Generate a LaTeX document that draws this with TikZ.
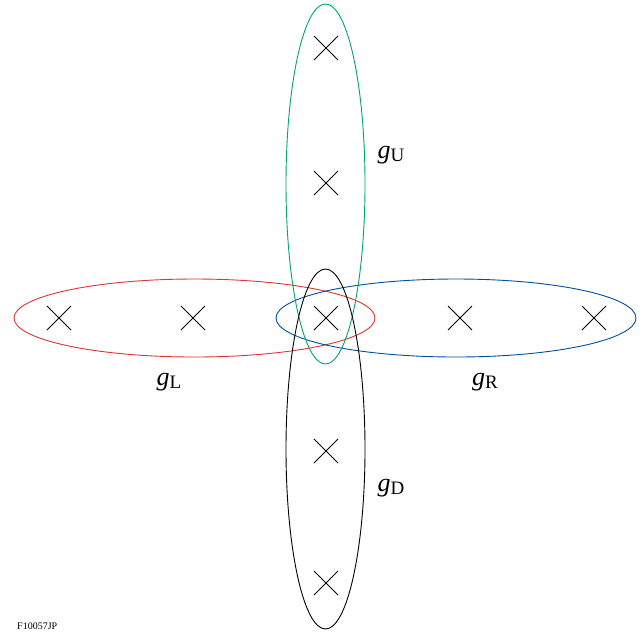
\documentclass[tikz,border=0pt]{standalone}
\usepackage{fontspec}
\setmainfont{Liberation Serif}
\newcommand{\glab}[1]{\textit{g}\raisebox{-0.3ex}{\fontsize{19}{21}\selectfont #1}}
\begin{document}
\begin{tikzpicture}[x=1pt,y=-1pt,
  ring/.style={line width=0.9pt},
  lbl/.style={font=\fontsize{26}{28}\selectfont,inner sep=0pt}]
\definecolor{cred}{RGB}{222,52,52}
\definecolor{cgreen}{RGB}{0,165,110}
\definecolor{cblue}{RGB}{0,80,160}
\useasboundingbox (0,0) rectangle (644,633);
% crosses
\foreach \n/\x/\y in {l2/59/318,l1/193/318,c/326/318,r1/460/318,r2/594/318,u2/326/48,u1/326/183,d1/326/451,d2/326/583}{
  \coordinate (\n) at (\x,\y);
  \draw[line width=1pt] ([shift={(-12,-12)}]\n) -- ([shift={(12,12)}]\n);
  \draw[line width=1pt] ([shift={(-12,12)}]\n) -- ([shift={(12,-12)}]\n);
}
% ellipses
\coordinate (eL) at (194.5,318);
\coordinate (eR) at (456,318);
\coordinate (eU) at (325.5,184);
\coordinate (eD) at (325.5,449);
\draw[ring,cred] (eL) ellipse [x radius=180.5,y radius=39];
\draw[ring,cblue] (eR) ellipse [x radius=180,y radius=39];
\draw[ring,cgreen] (eU) ellipse [x radius=39.5,y radius=180];
\draw[ring,black] (eD) ellipse [x radius=39.5,y radius=180];
% labels
\node[lbl] (gU) at (391,155) {\glab{U}};
\node[lbl] (gL) at (169,382) {\glab{L}};
\node[lbl] (gR) at (485,382) {\glab{R}};
\node[lbl] (gD) at (391,488) {\glab{D}};
\node[font=\fontsize{10}{11}\selectfont,anchor=west,inner sep=0pt] (fig) at (17,626) {F10057JP};
\end{tikzpicture}
\end{document}
